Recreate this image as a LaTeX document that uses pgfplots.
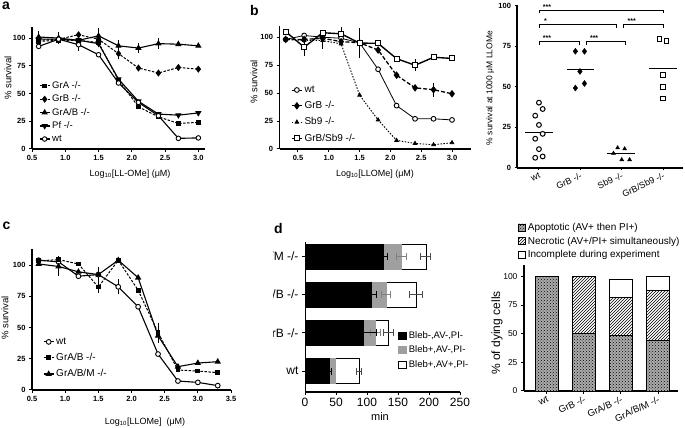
\documentclass[border=0pt]{standalone}
\usepackage{fontspec}
\setmainfont{Liberation Sans}
\usepackage{pgfplots}
\pgfplotsset{compat=1.18}
\usetikzlibrary{patterns}

\newcommand{\fs}[1]{\fontsize{#1}{#1}\selectfont}

\pgfplotsset{
  gp/.style={
    scale only axis, anchor=south west, clip=false,
    axis lines*=left,
    axis line style={line width=1.1pt},
    tick align=outside, major tick length=3pt,
    tick style={line width=1pt, black},
    tick label style={font=\fs{7.5}\bfseries},
    /pgf/number format/assume math mode=true,
    legend cell align=left,
  },
  dec/.style={xticklabel style={/pgf/number format/.cd, fixed, fixed zerofill, precision=1}},
  lg/.style={legend style={draw=none, fill=none, inner sep=0pt, row sep=#1}},
  limg/.style={legend image code/.code={\draw[mark repeat=2, mark phase=2] plot coordinates {(0pt,0pt) (5pt,0pt) (10pt,0pt)};}},
  ebar/.style={forget plot, draw=none, mark=none, error bars/.cd, y dir=both, y explicit,
    error bar style={draw=black, solid, line width=0.9pt},
    error mark options={draw=black, solid, mark size=2.5pt, line width=0.9pt}},
  xeb/.style={forget plot, draw=none, fill=none, bar shift=0pt, error bars/.cd, x dir=both, x explicit,
    error bar style={draw=#1, line width=0.9pt},
    error mark options={draw=#1, rotate=90, mark size=3.5pt, line width=0.9pt}},
  dsh/.style={dash pattern=on 2.5pt off 1.5pt},
}

\begin{document}
\begin{tikzpicture}
\useasboundingbox (0,0) rectangle (685pt,428pt);

% ---------- a ----------
\begin{axis}[gp, dec, at={(32pt,279pt)}, width=173pt, height=122pt,
  xmin=0.5, xmax=3.1, ymin=0, ymax=110,
  xtick={0.5,1.0,1.5,2.0,2.5,3.0}, ytick={0,25,50,75,100},
  lg=1pt, limg, legend style={font=\fs{9.5}, at={(0.04,0.57)}, anchor=north west}]
\addplot[ebar] coordinates {(0.6,101)+-(0,3) (0.9,100)+-(0,3) (1.2,98)+-(0,2) (1.5,102)+-(0,5) (1.8,93)+-(0,3) (2.1,91)+-(0,2) (2.4,95)+-(0,3)};
\addplot[ebar] coordinates {(1.2,94)+-(0,3) (1.8,86)+-(0,3)};
\addplot[line width=1pt, dsh, mark=square*, mark size=1.8pt, mark options={solid}] coordinates {(0.6,97)(0.9,98)(1.2,98)(1.5,96)(1.8,62)(2.1,38)(2.4,29)(2.7,23)(3.0,24)};
\addlegendentry{GrA -/-}
\addplot[line width=1pt, dsh, mark=diamond*, mark size=2.8pt, mark options={solid}] coordinates {(0.6,98)(0.9,99)(1.2,103)(1.5,99)(1.8,86)(2.1,73)(2.4,68.5)(2.7,73.5)(3.0,72)};
\addlegendentry{GrB -/-}
\addplot[line width=1.1pt, mark=triangle*, mark size=2.6pt] coordinates {(0.6,101)(0.9,100)(1.2,98)(1.5,102)(1.8,93)(2.1,91)(2.4,95)(2.7,94.5)(3.0,93)};
\addlegendentry{GrA/B -/-}
\addplot[line width=1.1pt, mark=triangle*, mark size=2.6pt, mark options={rotate=180}] coordinates {(0.6,99)(0.9,99)(1.2,98)(1.5,95)(1.8,63)(2.1,43)(2.4,31.5)(2.7,30.5)(3.0,32.5)};
\addlegendentry{Pf -/-}
\addplot[line width=1.1pt, mark=*, mark size=2.3pt, mark options={fill=white, line width=0.9pt}] coordinates {(0.6,92.5)(0.9,99)(1.2,94)(1.5,85)(1.8,59.5)(2.1,42)(2.4,30)(2.7,9.6)(3.0,10)};
\addlegendentry{wt}
\end{axis}

% ---------- b ----------
\begin{axis}[gp, dec, at={(279.5pt,279pt)}, width=191pt, height=123pt,
  xmin=0.2, xmax=3.3, ymin=0, ymax=110,
  xtick={0.5,1.0,1.5,2.0,2.5,3.0}, ytick={0,25,50,75,100},
  lg=3.5pt, limg, legend style={font=\fs{10}, at={(0.06,0.53)}, anchor=north west}]
\addplot[ebar] coordinates {(0.6,91)+-(0,6) (1.2,103)+-(0,4) (1.5,94.7)+-(0,11) (2.4,74.9)+-(0,3) (2.7,53)+-(0,4) (0.9,97)+-(0,5)};
\addplot[line width=0.8pt, mark=*, mark size=2.4pt, mark options={fill=white, line width=0.9pt}] coordinates {(0.3,98)(0.6,101.5)(0.9,100)(1.2,99)(1.5,95)(1.8,71.3)(2.1,38.8)(2.4,27)(2.7,27)(3.0,26)};
\addlegendentry{wt}
\addplot[line width=1.3pt, dash pattern=on 4pt off 2pt, mark=diamond*, mark size=2.8pt, mark options={solid}] coordinates {(0.3,98)(0.6,98)(0.9,99)(1.2,96)(1.5,95)(1.8,88.5)(2.1,66)(2.4,54.7)(2.7,53)(3.0,49.4)};
\addlegendentry{GrB -/-}
\addplot[line width=0.9pt, dash pattern=on 1.5pt off 1.5pt, mark=triangle*, mark size=2pt, mark options={solid}] coordinates {(0.3,98)(0.6,97)(0.9,97)(1.2,94)(1.5,48.2)(1.8,26)(2.1,7.7)(2.4,5)(2.7,3.8)(3.0,5.6)};
\addlegendentry{Sb9 -/-}
\addplot[line width=1.4pt, mark=square*, mark size=2.5pt, mark options={fill=white, line width=1pt}] coordinates {(0.3,105)(0.6,91)(0.9,104)(1.2,103)(1.5,94.7)(1.8,94.5)(2.1,80.8)(2.4,74.9)(2.7,82)(3.0,81)};
\addlegendentry{GrB/Sb9 -/-}
\end{axis}

% ---------- scatter (top right) ----------
\begin{axis}[gp, at={(517pt,260pt)}, width=166pt, height=162.5pt,
  xmin=-0.53, xmax=3.48, ymin=0, ymax=100,
  xtick={0,1,2,3}, xticklabels={wt, GrB -/-, Sb9 -/-, GrB/Sb9 -/-},
  xticklabel style={font=\fs{9}, rotate=25, anchor=north east, inner sep=1pt},
  ytick={0,25,50,75,100}, major tick length=2.5pt]
\addplot[only marks, mark=*, mark size=2.4pt, mark options={fill=white, line width=1pt}] coordinates {(0,40.2)(0.09,36.3)(-0.09,32.2)(0,26.5)(0.09,21)(-0.09,18)(0,11.6)(0.09,7.1)(-0.09,6.3)};
\addplot[only marks, mark=diamond*, mark size=3pt] coordinates {(0.88,71.8)(1.1,71.8)(0.99,59.4)(1.1,52)(0.88,49.2)};
\addplot[only marks, mark=triangle*, mark size=2.3pt] coordinates {(1.9,12.4)(2.07,11.8)(1.8,9)(2.0,5.1)(2.19,5.1)};
\addplot[only marks, mark=square, mark size=2.3pt, mark options={line width=1pt}] coordinates {(2.91,79.2)(3.08,78)(2.99,57.1)(2.99,50)(2.99,42.7)};
\addplot[line width=1pt, mark=none] coordinates {(-0.34,21.9)(0.35,21.9)};
\addplot[line width=1pt, mark=none] coordinates {(0.67,60.5)(1.34,60.5)};
\addplot[line width=1pt, mark=none] coordinates {(1.64,8.8)(2.33,8.8)};
\addplot[line width=1pt, mark=none] coordinates {(2.65,61.2)(3.33,61.2)};
\draw[line width=0.8pt] (axis cs:0,95.2) -- (axis cs:0,97.2) -- (axis cs:3,97.2) -- (axis cs:3,95.2);
\draw[line width=0.8pt] (axis cs:0,86.4) -- (axis cs:0,88.4) -- (axis cs:1.86,88.4) -- (axis cs:1.86,86.4);
\draw[line width=0.8pt] (axis cs:2.05,86.4) -- (axis cs:2.05,88.4) -- (axis cs:3,88.4) -- (axis cs:3,86.4);
\draw[line width=0.8pt] (axis cs:0,75.7) -- (axis cs:0,77.7) -- (axis cs:0.97,77.7) -- (axis cs:0.97,75.7);
\draw[line width=0.8pt] (axis cs:1.14,75.7) -- (axis cs:1.14,77.7) -- (axis cs:2.09,77.7) -- (axis cs:2.09,75.7);
\begin{scope}[every node/.style={anchor=south west, font=\fs{7}\bfseries, inner sep=0.8pt}]
\node at (axis cs:0.07,97.2) {***};
\node at (axis cs:0.1,88.4) {*};
\node at (axis cs:2.12,88.4) {***};
\node at (axis cs:0.07,77.7) {***};
\node at (axis cs:1.21,77.7) {***};
\end{scope}
\end{axis}

% ---------- c ----------
\begin{axis}[gp, dec, at={(32pt,38pt)}, width=199pt, height=141pt,
  xmin=0.5, xmax=3.5, ymin=0, ymax=113,
  xtick={0.5,1.0,1.5,2.0,2.5,3.0,3.5}, ytick={0,25,50,75,100},
  lg=3.5pt, limg, legend style={font=\fs{10}, at={(0.055,0.385)}, anchor=north west}]
\addplot[ebar] coordinates {(0.9,99)+-(0,6) (1.8,82.7)+-(0,4) (2.4,46)+-(0,6) (1.5,92.5)+-(0,4) (1.5,82.5)+-(0,3)};
\addplot[line width=1.1pt, mark=*, mark size=2.4pt, mark options={fill=white, line width=0.9pt}] coordinates {(0.6,104)(0.9,102.7)(1.2,91.2)(1.5,92.5)(1.8,82.7)(2.1,66.7)(2.4,28.8)(2.7,7.2)(3.0,6.1)(3.3,3.5)};
\addlegendentry{wt}
\addplot[line width=1pt, dsh, mark=square*, mark size=1.9pt, mark options={solid}] coordinates {(0.6,103.5)(0.9,104.5)(1.2,101)(1.5,82.5)(1.8,104)(2.1,80)(2.4,46)(2.7,16)(3.0,15.2)(3.3,13.9)};
\addlegendentry{GrA/B -/-}
\addplot[line width=1.1pt, mark=triangle*, mark size=2.6pt] coordinates {(0.6,101)(0.9,99)(1.2,94.7)(1.5,92.5)(1.8,104)(2.1,90)(2.4,43.5)(2.7,18.7)(3.0,21.6)(3.3,22.7)};
\addlegendentry{GrA/B/M -/-}
\end{axis}

% ---------- d ----------
\begin{axis}[gp, at={(305pt,36pt)}, width=155pt, height=150pt,
  xbar, bar width=25pt,
  xmin=0, xmax=250, ymin=-0.55, ymax=3.38,
  xtick={0,50,100,150,200,250}, ytick={0,1,2,3},
  yticklabels={wt, GrB -/-, GrA/B -/-, GrA/B/M -/-},
  tick label style={font=\fs{12}}, axis line style={line width=1pt}, tick style={line width=0.8pt},
  reverse legend,
  legend style={draw=none, fill=none, font=\fs{9.5}, at={(0.6,0.42)}, anchor=north west, row sep=2.5pt, inner sep=0pt},
  legend image code/.code={\draw[#1] (0pt,-3.5pt) rectangle (8pt,3.5pt);}]
\addplot[bar shift=0pt, fill=white, draw=black, line width=0.7pt] coordinates {(87,0)(134,1)(179,2)(195,3)};
\addlegendentry{Bleb+,AV+,PI-}
\addplot[bar shift=0pt, fill=gray!75, draw=gray!75, line width=0.7pt] coordinates {(49,0)(113,1)(130.6,2)(155,3)};
\addlegendentry{Bleb+,AV-,PI-}
\addplot[bar shift=0pt, fill=black, draw=black, line width=0.7pt] coordinates {(38.7,0)(93.5,1)(106.5,2)(126,3)};
\addlegendentry{Bleb-,AV-,PI-}
\addplot[xeb=black!70] coordinates {(87,0)+-(4,0) (134,1)+-(8,0) (179,2)+-(10,0) (195,3)+-(8,0)};
\addplot[xeb=gray] coordinates {(113,1)+-(8,0) (130.6,2)+-(7.5,0) (155,3)+-(8,0)};
\addplot[xeb=black] coordinates {(38.7,0)+-(3.5,0) (93.5,1)+-(22.5,0) (106.5,2)+-(9,0) (126,3)+-(7,0)};
\end{axis}
\fill[white] (236pt,43pt) rectangle (272.5pt,190pt);

% ---------- f ----------
\begin{axis}[gp, at={(524pt,37pt)}, width=154pt, height=126pt,
  ybar, bar width=23pt,
  xmin=-0.62, xmax=3.54, ymin=0, ymax=110,
  xtick={0,1,2,3}, xticklabels={wt, GrB -/-, GrA/B -/-, GrA/B/M -/-},
  xticklabel style={font=\fs{9.5}, rotate=25, anchor=north east, inner sep=1pt},
  yticklabel style={font=\fs{8.5}}, ytick={0,25,50,75,100},
  reverse legend,
  legend style={draw=none, fill=none, font=\fs{10}, at={(-0.04,1.35)}, anchor=north west, row sep=1pt, inner sep=0pt},
  legend image code/.code={\draw[#1] (0pt,-3.5pt) rectangle (7pt,3.5pt);}]
\addplot[bar shift=0pt, fill=white, draw=black, line width=0.8pt] coordinates {(0,100)(1,100)(2,97)(3,100)};
\addlegendentry{Incomplete during experiment}
\addplot[bar shift=0pt, fill=white, draw=black, line width=0.8pt, postaction={pattern=north east lines}] coordinates {(0,100)(1,100)(2,81.5)(3,88)};
\addlegendentry{Necrotic (AV+/PI+ simultaneously)}
\addplot[bar shift=0pt, fill=gray!65, draw=black, line width=0.8pt, postaction={pattern=crosshatch dots}] coordinates {(0,100)(1,50)(2,48.5)(3,44)};
\addlegendentry{Apoptotic (AV+ then PI+)}
\end{axis}

% ---------- labels ----------
\begin{scope}[every node/.style={inner sep=0pt}]
\node[anchor=north west, font=\fs{14}\bfseries] at (2pt,426pt) {a};
\node[anchor=north west, font=\fs{14}\bfseries] at (250pt,423pt) {b};
\node[anchor=north west, font=\fs{14}\bfseries] at (2.5pt,206pt) {c};
\node[anchor=north west, font=\fs{14}\bfseries] at (274pt,205pt) {d};
\node[rotate=90, font=\fs{9.5}] at (8pt,350pt) {\% survival};
\node[rotate=90, font=\fs{9.5}] at (254pt,346pt) {\% survival};
\node[rotate=90, font=\fs{8.5}] at (490pt,340pt) {\% survival at 1000 μM LLOMe};
\node[rotate=90, font=\fs{9.5}] at (5pt,110pt) {\% survival};
\node[rotate=90, font=\fs{12}] at (497pt,95pt) {\% of dying cells};
\node[font=\fs{9}] at (130pt,254pt) {Log\textsubscript{10}[LL-OMe] (μM)};
\node[font=\fs{9}] at (375pt,254pt) {Log\textsubscript{10}[LLOMe] (μM)};
\node[font=\fs{9}] at (145pt,6pt) {Log\textsubscript{10}[LLOMe]~~(μM)};
\node[font=\fs{11}] at (380pt,11pt) {min};
\end{scope}
\end{tikzpicture}
\end{document}
